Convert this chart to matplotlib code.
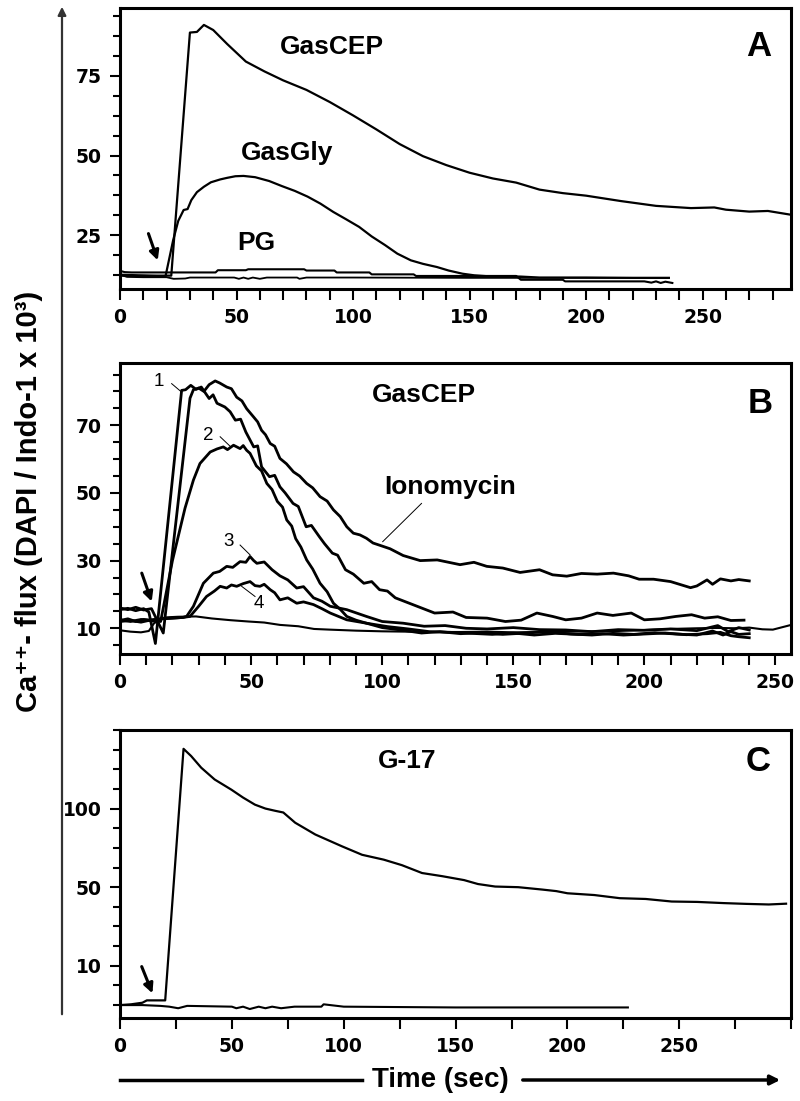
import numpy as np
import matplotlib
matplotlib.use('Agg')
import matplotlib.pyplot as plt
from matplotlib.patches import FancyArrowPatch
from matplotlib.ticker import MultipleLocator, FixedLocator

# ============================================
# PANEL A data (time in sec, flux)
# ============================================
a_cep_t = [0, 8, 16, 22, 30, 33, 36, 40, 46, 54, 62, 70, 80, 90, 100, 110, 120, 130, 140, 150,
           160, 170, 180, 190, 200, 215, 230, 245, 255, 260, 270, 278, 288]
a_cep_y = [12.6, 12.4, 12.3, 12.3, 88.6, 88.8, 91.0, 89.4, 85.0, 79.5, 76.4, 73.6, 70.6, 66.8, 62.6,
           58.2, 53.6, 49.8, 47.0, 44.6, 42.8, 41.5, 39.3, 38.2, 37.4, 35.7, 34.2, 33.5, 33.7, 33.0, 32.4, 32.6, 31.4]

a_gly_t = [0, 10, 19.5, 22.8, 25, 27.3, 29, 30.6, 33, 36, 39, 43, 46, 49.5, 53, 58, 64, 69.5, 75,
           80.5, 86, 91.5, 97, 102.6, 108, 113.7, 119, 124.8, 130, 136, 141, 147, 152, 158, 165,
           172, 180, 200, 220, 235.5]
a_gly_y = [12.3, 12.2, 12.0, 23.4, 29.5, 32.9, 33.2, 36.0, 38.5, 40.2, 41.6, 42.5, 43.0, 43.5,
           43.6, 43.2, 42.0, 40.4, 38.9, 37.1, 34.9, 32.3, 30.0, 27.6, 24.6, 21.9, 19.2, 17.1, 16.0,
           15.0, 13.9, 12.9, 12.4, 12.1, 12.1, 12.0, 11.7, 11.7, 11.6, 11.6]

a_pg_t = [0, 2, 5, 41, 42, 54, 55, 79, 80, 92, 93, 107, 108, 126, 127, 170, 172, 190, 191, 225,
          228, 230, 232, 234, 237]
a_pg_y = [13.8, 13.4, 13.3, 13.3, 14.0, 14.0, 14.3, 14.3, 13.9, 13.9, 13.3, 13.3, 12.7, 12.7,
          12.2, 12.2, 11.0, 11.0, 10.5, 10.5, 10.1, 10.5, 10.0, 10.4, 10.0]

a_ctl_t = [0, 3, 10, 20, 23, 28, 30, 40, 49, 51, 53, 55, 57, 60, 63, 70, 76, 77, 80, 100, 150, 200, 235.5]
a_ctl_y = [12.6, 11.9, 11.8, 11.8, 11.3, 11.4, 11.7, 11.7, 11.7, 11.3, 11.7, 11.3, 11.7, 11.3,
           11.7, 11.7, 11.7, 11.3, 11.7, 11.7, 11.6, 11.6, 11.6]

# ============================================
# PANEL B data
# ============================================
b_ctl_t = [0, 4, 8, 11, 13, 17, 22, 29, 35, 42, 49, 55, 61, 68, 74, 80, 90, 100, 110, 120, 130,
           140, 150, 160, 170, 180, 190, 200, 210, 220, 228, 235, 240, 245, 249, 253, 256]
b_ctl_y = [9.4, 9.0, 8.8, 9.2, 11.5, 13.2, 13.4, 13.5, 12.9, 12.4, 12.0, 11.7, 11.0, 10.6, 9.8,
           9.6, 9.3, 9.1, 9.0, 8.9, 8.9, 9.0, 8.8, 8.9, 9.0, 9.1, 9.2, 9.5, 9.8, 10.0, 10.1, 10.0,
           10.2, 9.7, 9.6, 10.4, 11.0]

b1_t = [0, 3, 6, 9, 11, 13.5, 23.5, 25, 27, 29, 31, 34, 35.5, 37, 40, 42, 44, 46, 48, 51, 52.5,
        54, 57, 59, 61, 63, 66, 68, 71, 73, 76, 78, 81, 83, 86, 89, 93, 96, 99, 102, 105, 110, 115,
        120, 127, 132, 140, 147, 153, 159, 165, 170, 176, 182, 188, 195, 200, 206, 212, 218, 223,
        228, 233, 238]
b1_y = [15.5, 15.9, 15.2, 15.8, 14.8, 5.5, 80.3, 80.5, 81.8, 80.6, 81.3, 77.9, 79.0, 76.5, 75.4,
        74.0, 71.5, 71.8, 68.0, 63.6, 63.9, 57.7, 54.8, 55.2, 51.8, 50.0, 46.9, 46.0, 40.0, 40.4,
        37.1, 35.0, 32.2, 31.6, 27.3, 26.0, 23.3, 23.8, 21.4, 21.0, 19.0, 17.5, 16.0, 14.5, 14.8,
        13.2, 13.0, 12.0, 12.4, 14.5, 13.5, 12.5, 13.0, 14.5, 13.8, 14.5, 12.5, 12.8, 13.5, 14.0,
        13.0, 13.4, 12.3, 12.4]

b_ion_t = [0, 3, 6, 9, 12, 16.5, 26.7, 28, 30, 32, 34, 36.3, 38, 40.7, 42.5, 44.5, 46.5, 48.3,
           50.9, 52.5, 54, 55.5, 57.3, 59, 61, 63.5, 66.2, 68.5, 71.2, 73.5, 76.3, 79, 81.4, 84,
           86.5, 89, 91.5, 94, 96.5, 99.2, 103, 108, 114.5, 121, 129.7, 135, 139.9, 146, 152.6,
           160, 165, 170.4, 176, 182, 188.2, 194, 198, 203.5, 210, 217.6, 220, 223.9, 226, 229,
           233, 236, 240]
b_ion_y = [16.0, 15.5, 16.2, 15.4, 15.8, 8.6, 78.0, 80.5, 81.0, 80.0, 82.0, 83.1, 82.5, 81.3, 80.8,
           78.3, 77.2, 74.9, 72.5, 71.0, 68.5, 67.2, 64.6, 63.8, 60.2, 58.6, 56.2, 55.0, 52.8, 51.5,
           48.9, 47.6, 45.0, 43.0, 40.0, 38.1, 37.6, 36.6, 35.2, 34.5, 33.5, 31.5, 30.0, 30.2, 28.8,
           29.5, 28.3, 27.8, 26.5, 27.3, 25.8, 25.4, 26.2, 26.0, 26.3, 25.5, 24.5, 24.5, 23.8, 22.0,
           22.5, 24.3, 23.0, 24.6, 24.0, 24.4, 24.0]

b2_t = [0, 3, 6, 9, 12, 15.5, 20, 24.8, 28, 30.5, 34.4, 37, 39.4, 41, 43.3, 45.8, 47, 48.3, 49.6,
        52, 54, 56, 58, 60, 62, 63.6, 65.5, 67, 69, 71.2, 73.5, 76.3, 79, 81.4, 84, 86.5, 90, 94,
        100, 108, 115, 122, 130, 138, 146, 155, 163, 172, 180, 188, 196, 204, 212, 220, 226, 230,
        233, 236, 240]
b2_y = [12.3, 12.8, 12.0, 12.6, 12.2, 12.0, 30.0, 45.5, 53.8, 58.7, 62.1, 63.0, 63.6, 62.8, 64.1,
        63.1, 64.0, 62.6, 61.7, 58.0, 56.5, 52.8, 51.0, 47.5, 45.8, 42.0, 40.2, 36.5, 34.0, 30.2,
        27.5, 23.3, 20.8, 17.4, 15.6, 13.5, 12.4, 11.5, 10.2, 9.4, 8.6, 9.0, 8.4, 8.8, 8.2, 8.6,
        9.0, 8.3, 8.0, 8.5, 8.2, 8.7, 8.3, 8.0, 9.2, 8.0, 9.0, 8.2, 8.4]

b3_t = [0, 4, 8, 12, 16, 20, 24, 25.4, 28, 31.8, 35.6, 38, 40.7, 43, 45.8, 48, 49.6, 51, 52.2, 55,
        58, 61, 64, 67.4, 70, 73.8, 77, 80.2, 86.5, 94, 100, 108, 116, 124, 132, 140, 150, 160,
        170, 180, 190, 200, 210, 220, 228, 232, 236, 240]
b3_y = [12.5, 12.0, 12.6, 12.4, 12.8, 13.0, 13.2, 13.5, 16.5, 23.3, 26.3, 26.8, 28.3, 28.0, 29.7,
        29.5, 31.2, 30.0, 29.2, 29.6, 27.3, 25.5, 24.3, 21.9, 22.3, 19.0, 18.0, 16.5, 15.5, 13.5,
        12.0, 11.5, 10.6, 10.8, 10.0, 9.8, 10.2, 9.6, 9.5, 9.0, 9.6, 9.4, 9.8, 9.3, 10.8, 9.0,
        10.2, 9.5]

b4_t = [0, 4, 8, 12, 16, 20, 24, 26.7, 30, 33, 36, 38.2, 40.7, 42.5, 44.5, 47, 49.6, 51.5, 53.4,
        55, 57.3, 59, 61, 64, 67.4, 70, 73.8, 77, 80.2, 86.5, 94, 102, 110, 118, 126, 134, 142,
        150, 158, 166, 175, 184, 192, 200, 208, 216, 224, 229, 233, 236, 240]
b4_y = [12.0, 12.3, 11.8, 12.5, 12.8, 13.0, 13.2, 13.5, 16.5, 19.4, 21.0, 22.4, 21.9, 22.8, 22.4,
        23.2, 23.8, 22.6, 22.4, 23.0, 21.4, 20.5, 18.4, 19.0, 17.4, 17.8, 17.0, 15.8, 14.5, 12.5,
        11.5, 10.5, 9.8, 9.0, 8.8, 8.5, 8.2, 8.6, 8.0, 8.5, 8.2, 8.4, 8.0, 8.3, 8.6, 8.1, 8.4,
        8.8, 7.8, 7.5, 7.2]

# ============================================
# PANEL C data
# ============================================
c_g17_t = [0, 5, 10, 12, 20.2, 28.4, 31.8, 36.3, 42.3, 49.8, 55, 60.3, 65, 69.3, 73, 78.3, 87.3,
           99.2, 108.2, 117.9, 126, 135, 144, 153.8, 160, 167.7, 178, 188.6, 195, 200, 212, 223.4,
           235, 246.6, 258, 269.8, 280, 290, 297.7]
c_g17_y = [5.0, 5.1, 5.3, 5.6, 5.6, 138, 133.4, 126, 118.5, 112, 107, 102.5, 100, 98.6, 97.5, 91,
           83.5, 76, 70.6, 67.5, 64, 59, 57, 54.5, 52, 50.4, 50, 48.8, 48, 46.9, 46, 44.4, 44, 42.7,
           42.5, 41.9, 41.5, 41.2, 41.6]

c_ctl_t = [0, 10, 18, 22, 26, 30, 50, 52, 55, 58, 62, 65, 68, 72, 78, 90, 91, 100, 150, 200, 227]
c_ctl_y = [5.0, 5.0, 4.9, 4.8, 4.6, 4.9, 4.8, 4.6, 4.8, 4.5, 4.8, 4.6, 4.8, 4.6, 4.8, 4.8, 5.1,
           4.8, 4.7, 4.7, 4.7]

# axis in panel C is not linear: 10, 50, 100 are evenly spaced
c_scale_val = [0, 10, 50, 100, 150]
c_scale_pos = [0, 1, 2, 3, 4]


def c_fwd(v):
    return np.interp(v, c_scale_val, c_scale_pos)


def c_inv(p):
    return np.interp(p, c_scale_pos, c_scale_val)


TXT = ['Liberation Sans', 'DejaVu Sans']

fig = plt.figure(figsize=(8, 11.01), dpi=100)

axA = fig.add_axes([0.15, 0.7375, 0.839, 0.2552])
axB = fig.add_axes([0.15, 0.406, 0.839, 0.2643])
axC = fig.add_axes([0.15, 0.0754, 0.839, 0.2616])


def style_axis(ax):
    for s in ax.spines.values():
        s.set_linewidth(2.2)
    ax.tick_params(which='both', direction='out', width=1.5, top=False, right=False,
                   labelsize=13.5, colors='black')
    ax.tick_params(which='major', length=7, pad=6)
    ax.tick_params(which='minor', length=5)
    ax.tick_params(axis='x', which='both', length=8)
    for lab in ax.get_xticklabels() + ax.get_yticklabels():
        lab.set_fontweight('bold')


def panel_arrow(ax, tail, head):
    ax.annotate('', xy=head, xytext=tail,
                arrowprops=dict(arrowstyle='-|>', lw=2.2, color='black', mutation_scale=14,
                                shrinkA=0, shrinkB=0))


# ---------------- Panel A ----------------
lw_thin = 1.6
axA.plot(a_ctl_t, a_ctl_y, color='black', lw=1.3)
axA.plot(a_pg_t, a_pg_y, color='black', lw=1.5)
axA.plot(a_gly_t, a_gly_y, color='black', lw=lw_thin)
axA.plot(a_cep_t, a_cep_y, color='black', lw=lw_thin)
axA.set_xlim(0, 288)
axA.set_ylim(8.1, 96.3)
axA.set_xticks([0, 50, 100, 150, 200, 250])
axA.xaxis.set_minor_locator(MultipleLocator(10))
axA.set_yticks([25, 50, 75])
axA.yaxis.set_minor_locator(MultipleLocator(6.25))
style_axis(axA)
axA.text(91, 84.2, 'GasCEP', fontsize=19, fontweight='bold', family=TXT, ha='center', va='center')
axA.text(71.6, 50.7, 'GasGly', fontsize=19, fontweight='bold', family=TXT, ha='center', va='center')
axA.text(58.3, 22.4, 'PG', fontsize=19, fontweight='bold', family=TXT, ha='center', va='center')
axA.text(274, 84.2, 'A', fontsize=25, fontweight='bold', family=TXT, ha='center', va='center')
panel_arrow(axA, (12.2, 25.5), (16.2, 17.1))

# ---------------- Panel B ----------------
lw_b = 2.0
axB.plot(b_ctl_t, b_ctl_y, color='black', lw=1.5)
axB.plot(b4_t, b4_y, color='black', lw=lw_b)
axB.plot(b3_t, b3_y, color='black', lw=lw_b)
axB.plot(b2_t, b2_y, color='black', lw=lw_b)
axB.plot(b_ion_t, b_ion_y, color='black', lw=lw_b)
axB.plot(b1_t, b1_y, color='black', lw=lw_b)
axB.set_xlim(0, 256)
axB.set_ylim(2.4, 88.4)
axB.set_xticks([0, 50, 100, 150, 200, 250])
axB.xaxis.set_minor_locator(MultipleLocator(10))
axB.set_yticks([10, 30, 50, 70])
axB.yaxis.set_minor_locator(MultipleLocator(5))
style_axis(axB)
axB.text(116, 78.8, 'GasCEP', fontsize=19, fontweight='bold', family=TXT, ha='center', va='center')
axB.text(125.8, 51.8, 'Ionomycin', fontsize=19, fontweight='bold', family=TXT, ha='center', va='center')
axB.plot([115, 100.2], [46.9, 35.6], color='black', lw=0.7)
axB.text(244, 76.4, 'B', fontsize=25, fontweight='bold', family=TXT, ha='center', va='center')
num_labels = [('1', 14.9, 82.8, (19.7, 82.3), (23.5, 79.8)),
              ('2', 33.7, 67.0, (38.2, 66.6), (42.0, 63.8)),
              ('3', 41.3, 35.6, (45.8, 34.6), (49.6, 31.7)),
              ('4', 52.8, 17.4, (51.5, 19.4), (46.4, 22.4))]
for txt, tx, ty, p0, p1 in num_labels:
    axB.text(tx, ty, txt, fontsize=13.5, family=TXT, ha='center', va='center')
    axB.plot([p0[0], p1[0]], [p0[1], p1[1]], color='black', lw=0.7)
panel_arrow(axB, (8.3, 26.3), (12.1, 17.9))

# ---------------- Panel C ----------------
axC.set_yscale('function', functions=(c_fwd, c_inv))
axC.plot(c_ctl_t, c_ctl_y, color='black', lw=1.5)
axC.plot(c_g17_t, c_g17_y, color='black', lw=lw_thin)
axC.set_xlim(0, 300)
axC.set_ylim(3.36, 150.5)
axC.set_xticks([0, 50, 100, 150, 200, 250])
axC.xaxis.set_minor_locator(MultipleLocator(25))
axC.yaxis.set_major_locator(FixedLocator([10, 50, 100]))
axC.yaxis.set_minor_locator(FixedLocator(c_inv(np.arange(0.5, 4.01, 0.25))))
axC.set_yticklabels(['10', '50', '100'])
axC.yaxis.set_minor_formatter(plt.NullFormatter())
style_axis(axC)
axC.text(128.3, 130, 'G-17', fontsize=19, fontweight='bold', family=TXT, ha='center', va='center')
axC.text(285, 130, 'C', fontsize=25, fontweight='bold', family=TXT, ha='center', va='center')
panel_arrow(axC, (9.7, 9.9), (14.5, 6.5))

# ---------------- shared labels ----------------
fig.text(29 / 800, 1 - 501 / 1101, 'Ca\u207a\u207a- flux (DAPI / Indo-1 x 10\u00b3)', rotation=90,
         fontsize=21, fontweight='bold', family=TXT, ha='center', va='center')

fig.add_artist(FancyArrowPatch((62 / 800, 1 - 1017 / 1101), (62 / 800, 1 - 4 / 1101),
                               transform=fig.transFigure, arrowstyle='-|>', mutation_scale=12,
                               lw=1.6, color='#333333'))

ty = 1 - 1080 / 1101
fig.add_artist(plt.Line2D([120 / 800, 362 / 800], [ty, ty], transform=fig.transFigure,
                          color='black', lw=2.5))
fig.text(440 / 800, ty, 'Time (sec)', fontsize=20, fontweight='bold', family=TXT,
         ha='center', va='center')
fig.add_artist(FancyArrowPatch((520 / 800, ty), (783 / 800, ty), transform=fig.transFigure,
                               arrowstyle='-|>', mutation_scale=14, lw=2.5, color='black'))

fig.savefig('out.png', dpi=100)
